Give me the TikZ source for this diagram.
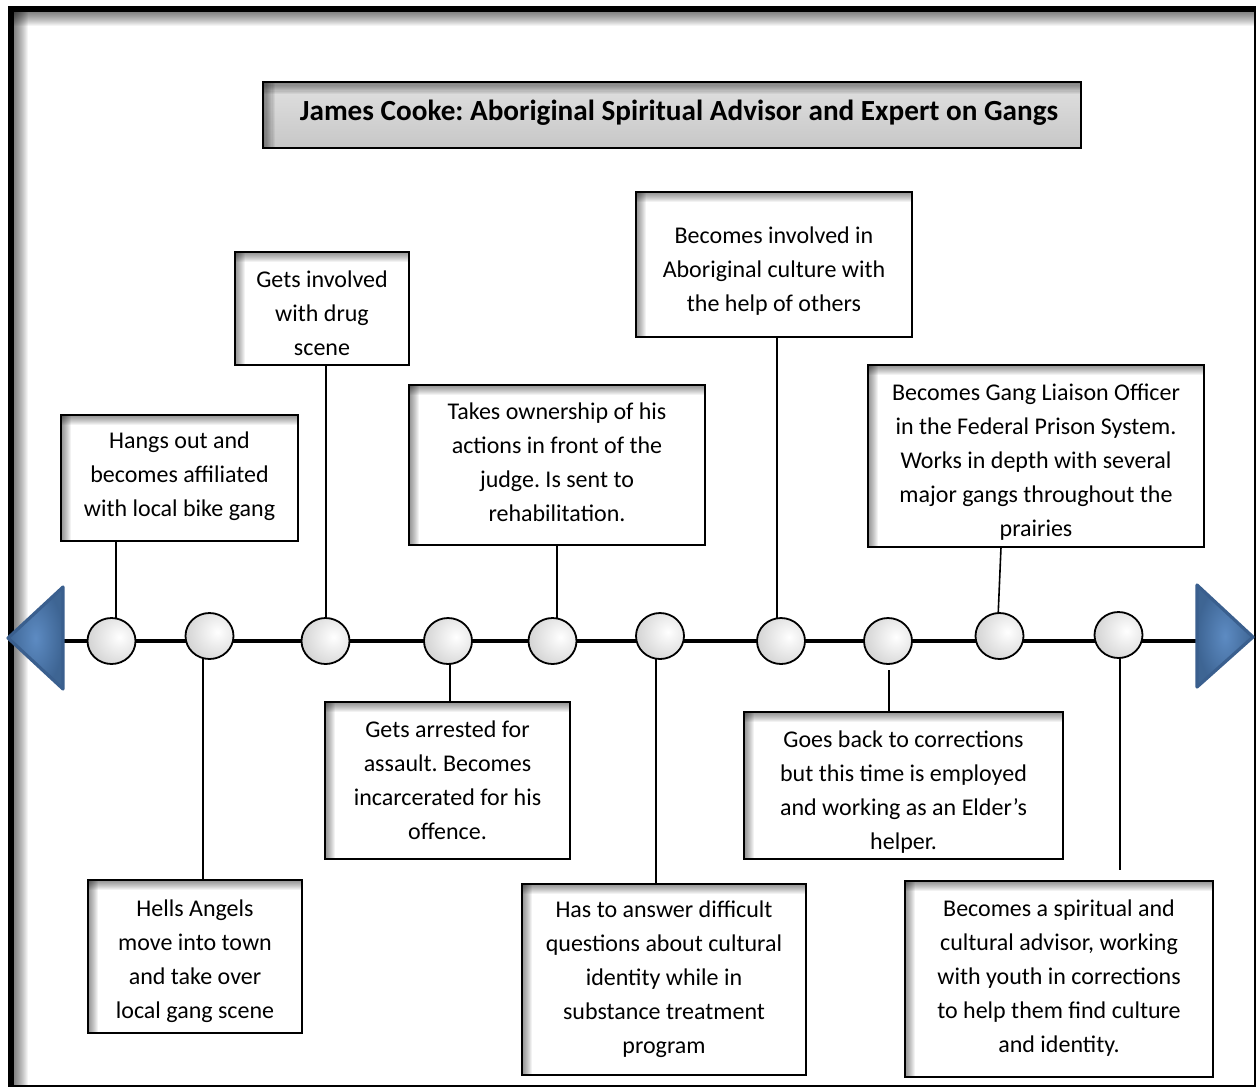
\documentclass[tikz,border=0pt]{standalone}
\usepackage{fontspec}
\setmainfont{Carlito}
\frenchspacing
\usetikzlibrary{shapes.geometric,fit,calc}
\definecolor{blueA}{HTML}{4F81BD}
\definecolor{blueB}{HTML}{3A5F8E}
\begin{document}
\begin{tikzpicture}[x=0.5pt,y=-0.5pt,
  evbox/.style={draw=black, line width=0.9pt, rectangle, inner sep=0pt, fill=white,
    path picture={
      \foreach \i in {1,...,10} {
        \fill[black, fill opacity=0.05] (path picture bounding box.north west) rectangle ([yshift=-\i*0.5pt]path picture bounding box.north east);
        \fill[black, fill opacity=0.05] (path picture bounding box.north west) rectangle ([xshift=\i*0.5pt]path picture bounding box.south west);
      }}},
  titlebox/.style={draw=black, line width=1pt, rectangle, inner sep=0pt,
    path picture={
      \shade[top color=black!12, bottom color=black!22] (path picture bounding box.north west) rectangle (path picture bounding box.south east);
      \foreach \i in {1,...,10} {
        \fill[black, fill opacity=0.05] (path picture bounding box.north west) rectangle ([yshift=-\i*0.6pt]path picture bounding box.north east);
        \fill[black, fill opacity=0.05] (path picture bounding box.north west) rectangle ([xshift=\i*0.6pt]path picture bounding box.south west);
      }}},
  evtext/.style={anchor=base, align=center, inner sep=0pt, font={\fontsize{12}{17}\selectfont}},
  dot/.style={ellipse, draw=black, line width=0.9pt, minimum width=24pt, minimum height=23pt, inner sep=0pt, fill=white,
    path picture={\shade[inner color=white, outer color=black!34] ([xshift=4pt,yshift=2pt]path picture bounding box.center) circle (32pt);}},
  conn/.style={line width=0.8pt, black},
  tri/.style={draw=blueB, line width=1.6pt, line join=round, inner color=blueA!92!white, outer color=blueA!78!black}
]
\useasboundingbox (0,0) rectangle (1257,1088);
\fill[white] (0,0) rectangle (1257,1088);
% page frame
\foreach \i in {1,...,14} {
  \fill[black, fill opacity=0.045] (14,12) rectangle (1255,12+\i);
  \fill[black, fill opacity=0.045] (14,12) rectangle (14+\i,1086);
}
\fill[black] (8,6) rectangle (1256,12);
\fill[black] (8,6) rectangle (14,1087);
\draw[line width=0.9pt] (1255,6) -- (1255,1086) -- (8,1086);

% title
\node[titlebox, fit={(263,82) (1081,148)}] (title) {};
\node[anchor=base, inner sep=0pt, font={\fontsize{14.6}{17}\selectfont\bfseries}] (titletext) at (679,120) {James Cooke: Aboriginal Spiritual Advisor and Expert on Gangs};

% timeline
\coordinate (tl) at (63,641);
\coordinate (tr) at (1197,641);
\draw[line width=2pt] (tl) -- (tr);
\shadedraw[tri] (63,587) -- (63,689) -- (8,638) -- cycle;
\shadedraw[tri] (1197,585) -- (1197,687) -- (1253,637) -- cycle;

% event boxes (above)  -- text anchored at the baseline of its last line
\node[evbox, fit={(61,415) (298,541)}] (b1) {};
\node[evtext] at (179.5,516) {Hangs out and\\becomes affiliated\\with local bike gang};
\node[evbox, fit={(235,252) (409,365)}] (b2) {};
\node[evtext] at (322,355) {Gets involved\\with drug\\scene};
\node[evbox, fit={(409,385) (705,545)}] (b3) {};
\node[evtext] at (557,521) {Takes ownership of his\\actions in front of the\\judge. Is sent to\\rehabilitation.};
\node[evbox, fit={(636,192) (912,337)}] (b4) {};
\node[evtext] at (774,311) {Becomes involved in\\Aboriginal culture with\\the help of others};
\node[evbox, fit={(868,365) (1204,547)}] (b5) {};
\node[evtext] at (1036,536) {Becomes Gang Liaison Officer\\in the Federal Prison System.\\Works in depth with several\\major gangs throughout the\\prairies};

% event boxes (below)
\node[evbox, fit={(88,880) (302,1033)}] (c1) {};
\node[evtext] at (195,1018) {Hells Angels\\move into town\\and take over\\local gang scene};
\node[evbox, fit={(325,702) (570,859)}] (c2) {};
\node[evtext] at (447.5,839) {Gets arrested for\\assault. Becomes\\incarcerated for his\\offence.};
\node[evbox, fit={(522,884) (806,1075)}] (c3) {};
\node[evtext] at (664,1053) {Has to answer difficult\\questions about cultural\\identity while in\\substance treatment\\program};
\node[evbox, fit={(744,712) (1063,859)}] (c4) {};
\node[evtext] at (903.5,849) {Goes back to corrections\\but this time is employed\\and working as an Elder’s\\helper.};
\node[evbox, fit={(905,881) (1213,1077)}] (c5) {};
\node[evtext] at (1059,1052) {Becomes a spiritual and\\cultural advisor, working\\with youth in corrections\\to help them find culture\\and identity.};

% connectors
\coordinate (k1) at (116,622);
\coordinate (k2) at (203,655);
\coordinate (k3) at (326,622);
\coordinate (k4) at (450,660);
\coordinate (k5) at (557,618);
\coordinate (k6) at (656,655);
\coordinate (k7) at (777,622);
\coordinate (k8) at (889,670);
\coordinate (k9) at (998,618);
\coordinate (k10) at (1120,655);
\coordinate (k9t) at (1001,547);
\draw[conn] (b1.south -| k1) -- (k1);
\draw[conn] (k2) -- (k2 |- c1.north);
\draw[conn] (b2.south -| k3) -- (k3);
\draw[conn] (k4) -- (k4 |- c2.north);
\draw[conn] (b3.south -| k5) -- (k5);
\draw[conn] (k6) -- (k6 |- c3.north);
\draw[conn] (b4.south -| k7) -- (k7);
\draw[conn] (k8) -- (k8 |- c4.north);
\draw[conn] (k9t) -- (k9);
\draw[conn] (k10) -- ($(k10 |- c5.north)+(0,-10)$);

% timeline dots
\node[dot] (e1) at (111.5,641) {};
\node[dot] (e2) at (209.5,636) {};
\node[dot] (e3) at (325.5,641) {};
\node[dot] (e4) at (448,641) {};
\node[dot] (e5) at (552.5,641) {};
\node[dot] (e6) at (660,636) {};
\node[dot] (e7) at (781,641) {};
\node[dot] (e8) at (888,641) {};
\node[dot] (e9) at (999.5,636) {};
\node[dot] (e10) at (1118.5,635) {};
\end{tikzpicture}
\end{document}
